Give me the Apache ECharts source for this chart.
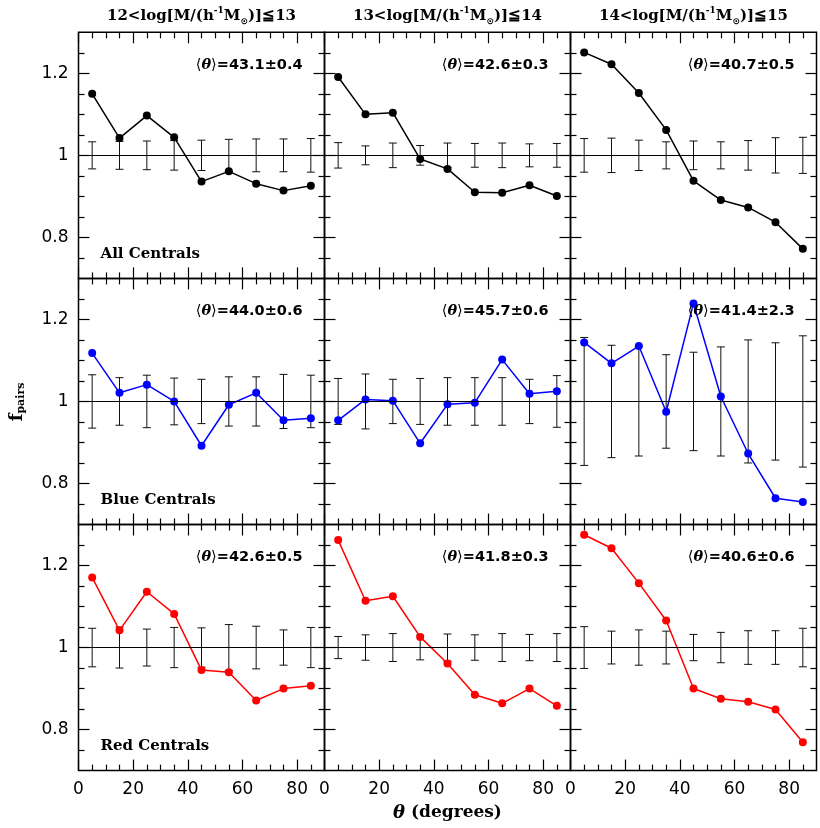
<!DOCTYPE html>
<html><head><meta charset="utf-8">
<script src="https://cdn.jsdelivr.net/npm/echarts@6/dist/echarts.min.js"></script>
<style>html,body{margin:0;padding:0;background:#fff}#c{width:820px;height:828px}</style>
</head><body><div id="c"></div>
<script>
// ---------------- data ----------------
const thetaBins = [5, 15, 25, 35, 45, 55, 65, 75, 85];
const massLow = ['12', '13', '14'];
const massHigh = ['13', '14', '15'];
const sampleNames = ['All Centrals', 'Blue Centrals', 'Red Centrals'];

const all_m12 = [1.150, 1.042, 1.097, 1.044, 0.936, 0.961, 0.931, 0.914, 0.926];
const all_m12_err = [0.033, 0.034, 0.035, 0.036, 0.037, 0.039, 0.040, 0.040, 0.041];
const all_m13 = [1.191, 1.100, 1.104, 0.991, 0.967, 0.910, 0.909, 0.927, 0.901];
const all_m13_err = [0.031, 0.023, 0.030, 0.024, 0.030, 0.029, 0.030, 0.028, 0.029];
const all_m14 = [1.251, 1.222, 1.152, 1.062, 0.938, 0.891, 0.873, 0.837, 0.772];
const all_m14_err = [0.041, 0.042, 0.037, 0.033, 0.035, 0.033, 0.036, 0.043, 0.044];

const blue_m12 = [1.118, 1.021, 1.041, 1.000, 0.892, 0.992, 1.021, 0.954, 0.959];
const blue_m12_err = [0.065, 0.058, 0.064, 0.057, 0.054, 0.060, 0.060, 0.066, 0.064];
const blue_m13 = [0.954, 1.005, 1.002, 0.898, 0.993, 0.997, 1.102, 1.019, 1.025];
const blue_m13_err = [0.056, 0.067, 0.054, 0.056, 0.058, 0.058, 0.058, 0.054, 0.063];
const blue_m14 = [1.144, 1.093, 1.135, 0.975, 1.239, 1.012, 0.873, 0.764, 0.755];
const blue_m14_err = [0.156, 0.137, 0.133, 0.114, 0.120, 0.133, 0.150, 0.143, 0.160];

const red_m12 = [1.171, 1.042, 1.136, 1.082, 0.945, 0.940, 0.871, 0.900, 0.907];
const red_m12_err = [0.047, 0.050, 0.045, 0.049, 0.048, 0.056, 0.052, 0.043, 0.049];
const red_m13 = [1.262, 1.114, 1.125, 1.026, 0.961, 0.885, 0.864, 0.900, 0.858];
const red_m13_err = [0.027, 0.031, 0.034, 0.030, 0.033, 0.031, 0.034, 0.032, 0.034];
const red_m14 = [1.275, 1.242, 1.157, 1.066, 0.900, 0.875, 0.868, 0.849, 0.769];
const red_m14_err = [0.051, 0.040, 0.043, 0.040, 0.032, 0.037, 0.041, 0.041, 0.047];

const meanAll = ['43.1±0.4', '42.6±0.3', '40.7±0.5'];
const meanBlue = ['44.0±0.6', '45.7±0.6', '41.4±2.3'];
const meanRed = ['42.6±0.5', '41.8±0.3', '40.6±0.6'];

const xMajorTicks = [0, 20, 40, 60, 80];
const xMinorTicks = [5, 10, 15, 25, 30, 35, 45, 50, 55, 65, 70, 75, 85];
const yMajorTicks = [0.8, 1, 1.2];
const yMinorTicks = [0.75, 0.85, 0.9, 0.95, 1.05, 1.1, 1.15, 1.25];

// ---------------- layout / styles ----------------
const panels = [
  [all_m12, all_m12_err, meanAll[0]], [all_m13, all_m13_err, meanAll[1]], [all_m14, all_m14_err, meanAll[2]],
  [blue_m12, blue_m12_err, meanBlue[0]], [blue_m13, blue_m13_err, meanBlue[1]], [blue_m14, blue_m14_err, meanBlue[2]],
  [red_m12, red_m12_err, meanRed[0]], [red_m13, red_m13_err, meanRed[1]], [red_m14, red_m14_err, meanRed[2]]
];
const rowColors = ['#000000', '#0000ff', '#ff0000'];
const L0 = 78.5, T0 = 32.3, PW = 246, PH = 246.1;
const MAJ = 11, MIN = 6;
const labelFont = { fontFamily: 'DejaVu Sans', fontSize: 17, color: '#000' };

const grids = [], xAxes = [], yAxes = [], series = [], graphics = [];

function xAx(gi, pos, ticks, len, labels) {
  return {
    type: 'value', gridIndex: gi, position: pos, min: 0, max: 90,
    axisLine: { show: false, onZero: false }, splitLine: { show: false },
    axisTick: { show: true, inside: true, length: len, customValues: ticks,
      lineStyle: { color: '#000', width: 1.2 } },
    axisLabel: Object.assign({ show: labels, customValues: xMajorTicks, margin: 10 }, labelFont)
  };
}
function yAx(gi, pos, ticks, len, labels) {
  return {
    type: 'value', gridIndex: gi, position: pos, min: 0.7, max: 1.3,
    axisLine: { show: false, onZero: false }, splitLine: { show: false },
    axisTick: { show: true, inside: true, length: len, customValues: ticks,
      lineStyle: { color: '#000', width: 1.2 } },
    axisLabel: Object.assign({ show: labels, customValues: yMajorTicks, margin: 10,
      formatter: v => (Math.abs(v - 1) < 1e-9 ? '1' : String(+v.toFixed(2))) }, labelFont)
  };
}

panels.forEach((p, gi) => {
  const row = Math.floor(gi / 3), col = gi % 3;
  const left = L0 + col * PW, top = T0 + row * PH;
  grids.push({ left: left, top: top, width: PW, height: PH, show: true,
    borderColor: '#000', borderWidth: 1.5, backgroundColor: 'transparent', containLabel: false });
  const xi = xAxes.length, yi = yAxes.length;
  xAxes.push(xAx(gi, 'bottom', xMajorTicks, MAJ, row === 2));
  xAxes.push(xAx(gi, 'bottom', xMinorTicks, MIN, false));
  xAxes.push(xAx(gi, 'top', xMajorTicks, MAJ, false));
  xAxes.push(xAx(gi, 'top', xMinorTicks, MIN, false));
  yAxes.push(yAx(gi, 'left', yMajorTicks, MAJ, col === 0));
  yAxes.push(yAx(gi, 'left', yMinorTicks, MIN, false));
  yAxes.push(yAx(gi, 'right', yMajorTicks, MAJ, false));
  yAxes.push(yAx(gi, 'right', yMinorTicks, MIN, false));

  const vals = p[0], errs = p[1];
  const color = rowColors[row];
  series.push({
    type: 'custom', xAxisIndex: xi, yAxisIndex: yi, z: 2, silent: true,
    data: thetaBins.map((t, i) => [t, 1, errs[i]]),
    renderItem: function (params, api) {
      const x = api.value(0), y = api.value(1), e = api.value(2);
      const a = api.coord([x, y + e]), b = api.coord([x, y - e]);
      const h = 4;
      const st = { stroke: '#111', lineWidth: 1 };
      return { type: 'group', children: [
        { type: 'line', shape: { x1: a[0], y1: a[1], x2: b[0], y2: b[1] }, style: st },
        { type: 'line', shape: { x1: a[0] - h, y1: a[1], x2: a[0] + h, y2: a[1] }, style: st },
        { type: 'line', shape: { x1: b[0] - h, y1: b[1], x2: b[0] + h, y2: b[1] }, style: st }
      ] };
    }
  });
  series.push({
    type: 'line', xAxisIndex: xi, yAxisIndex: yi, z: 3, silent: true,
    data: thetaBins.map((t, i) => [t, vals[i]]),
    symbol: 'circle', symbolSize: 8, showSymbol: true,
    lineStyle: { color: color, width: 1.5 }, itemStyle: { color: color },
    markLine: { silent: true, symbol: 'none', label: { show: false }, animation: false,
      lineStyle: { color: '#000', width: 1, type: 'solid' }, data: [{ yAxis: 1 }] }
  });

  // mean-angle annotation
  graphics.push({
    type: 'text', x: left + PW - 22, y: top + 33, z: 10, silent: true,
    style: {
      text: '{b|⟨}{i|θ}{b|⟩}{c|=' + p[2] + '}', align: 'right', verticalAlign: 'middle',
      rich: {
        b: { fontFamily: 'DejaVu Sans', fontSize: 14.5, fill: '#000' },
        i: { fontFamily: 'DejaVu Serif', fontSize: 14.5, fontWeight: 'bold', fontStyle: 'italic', fill: '#000' },
        c: { fontFamily: 'DejaVu Sans', fontSize: 14.5, fontWeight: 'bold', fill: '#000' }
      }
    }
  });
  if (col === 0) {
    graphics.push({
      type: 'text', x: left + 22, y: top + 222, z: 10, silent: true,
      style: { text: sampleNames[row], align: 'left', verticalAlign: 'middle',
        fontFamily: 'DejaVu Serif', fontSize: 15, fontWeight: 'bold', fill: '#000' }
    });
  }
});

// column titles
massLow.forEach((lo, c) => {
  graphics.push({
    type: 'text', x: L0 + c * PW + PW / 2, y: 16, silent: true,
    style: {
      text: '{a|' + lo + '<log[M/(h}{sup|-1}{a|M}{sub|⊙}{a|)]≦' + massHigh[c] + '}',
      align: 'center', verticalAlign: 'middle',
      rich: {
        a: { fontFamily: 'DejaVu Serif', fontSize: 15, fontWeight: 'bold', fill: '#000', lineHeight: 20 },
        sup: { fontFamily: 'DejaVu Serif', fontSize: 9, fontWeight: 'bold', fill: '#000', lineHeight: 10, verticalAlign: 'top' },
        sub: { fontFamily: 'DejaVu Sans', fontSize: 9, fontWeight: 'bold', fill: '#000', lineHeight: 10, verticalAlign: 'bottom' }
      }
    }
  });
});
// y axis name
graphics.push({
  type: 'text', x: 17, y: 402, rotation: Math.PI / 2, silent: true,
  style: {
    text: '{f|f}{s|pairs}', align: 'center', verticalAlign: 'middle',
    rich: {
      f: { fontFamily: 'DejaVu Serif', fontSize: 18, fontWeight: 'bold', fill: '#000', lineHeight: 20 },
      s: { fontFamily: 'DejaVu Serif', fontSize: 11, fontWeight: 'bold', fill: '#000', lineHeight: 11, verticalAlign: 'bottom' }
    }
  }
});
// x axis name
graphics.push({
  type: 'text', x: L0 + 1.5 * PW, y: 813, silent: true,
  style: {
    text: '{i|θ}{a| (degrees)}', align: 'center', verticalAlign: 'middle',
    rich: {
      i: { fontFamily: 'DejaVu Serif', fontSize: 18, fontStyle: 'italic', fontWeight: 'bold', fill: '#000' },
      a: { fontFamily: 'DejaVu Serif', fontSize: 17, fontWeight: 'bold', fill: '#000' }
    }
  }
});

const chart = echarts.init(document.getElementById('c'), null, { renderer: 'canvas' });
chart.setOption({
  animation: false,
  backgroundColor: '#fff',
  grid: grids, xAxis: xAxes, yAxis: yAxes, series: series, graphic: graphics
});
</script></body></html>
